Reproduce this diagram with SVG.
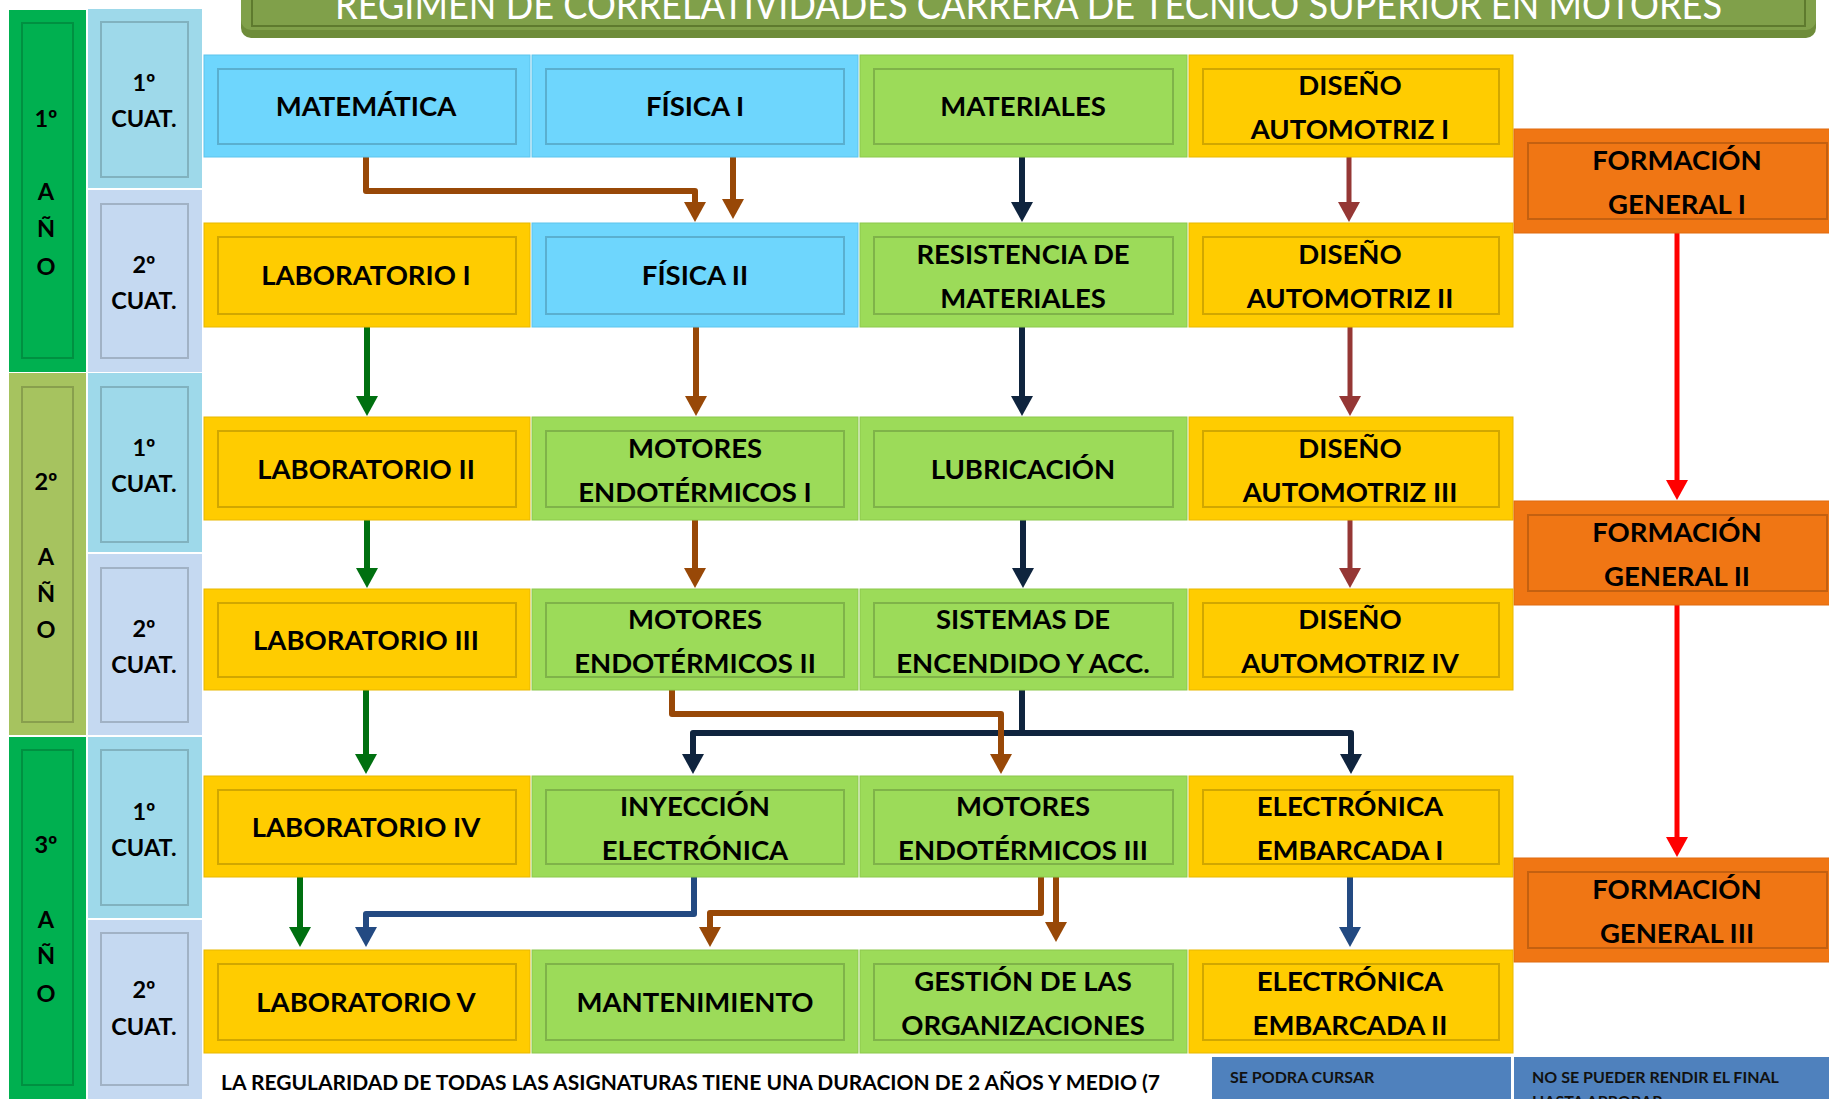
<svg xmlns="http://www.w3.org/2000/svg" width="1829" height="1099" viewBox="0 0 1829 1099">
<defs>
<style>
.t{font-family:Lato,"Open Sans","Liberation Sans",sans-serif;font-weight:700;font-size:27.5px;fill:#000;text-anchor:middle}
.s{font-size:23.5px}
.ttl{font-family:Lato,"Liberation Sans",sans-serif;font-weight:400;font-size:40px;fill:#fff}
.note{font-family:Lato,"Liberation Sans",sans-serif;font-weight:700;font-size:21px;fill:#000}
.leg{font-family:Lato,"Liberation Sans",sans-serif;font-weight:700;font-size:16px;fill:#111}
.blue{fill:#6ED6FD;stroke:#5CC4EC;stroke-width:1}
.green{fill:#9CDB59;stroke:#8CC84D;stroke-width:1}
.yellow{fill:#FFCC00;stroke:#E8B800;stroke-width:1}
.orange{fill:#F07614;stroke:#E06A0E;stroke-width:1}
.yg{fill:#00B050}
.yo{fill:#A6C35F}
.c1{fill:#9ED9EA}
.c2{fill:#C5D9F1}
.in{fill:none;stroke:#000;stroke-opacity:.18;stroke-width:2}
.cn{fill:none;stroke-width:6;stroke-linejoin:round}
.br{stroke:#984807}
.nv{stroke:#0F243E}
.dr{stroke:#953735;stroke-width:5}
.gr{stroke:#007010}
.bl{stroke:#234A82}
.rd{stroke:#FF0000;stroke-width:5}
</style>
<marker id="aBr" markerUnits="userSpaceOnUse" viewBox="0 0 20 22" markerWidth="20" markerHeight="22" refX="1" refY="11" orient="auto"><path d="M0,0L20,11L0,22z" fill="#984807"/></marker>
<marker id="aNv" markerUnits="userSpaceOnUse" viewBox="0 0 20 22" markerWidth="20" markerHeight="22" refX="1" refY="11" orient="auto"><path d="M0,0L20,11L0,22z" fill="#0F243E"/></marker>
<marker id="aDr" markerUnits="userSpaceOnUse" viewBox="0 0 20 22" markerWidth="20" markerHeight="22" refX="1" refY="11" orient="auto"><path d="M0,0L20,11L0,22z" fill="#953735"/></marker>
<marker id="aGr" markerUnits="userSpaceOnUse" viewBox="0 0 20 22" markerWidth="20" markerHeight="22" refX="1" refY="11" orient="auto"><path d="M0,0L20,11L0,22z" fill="#007010"/></marker>
<marker id="aBl" markerUnits="userSpaceOnUse" viewBox="0 0 20 22" markerWidth="20" markerHeight="22" refX="1" refY="11" orient="auto"><path d="M0,0L20,11L0,22z" fill="#234A82"/></marker>
<marker id="aRd" markerUnits="userSpaceOnUse" viewBox="0 0 20 22" markerWidth="20" markerHeight="22" refX="1" refY="11" orient="auto"><path d="M0,0L20,11L0,22z" fill="#FF0000"/></marker>
</defs>
<rect width="1829" height="1099" fill="#fff"/>

<g id="title">
<rect x="241" y="-30" width="1575" height="68" rx="10" fill="#6E8C3A"/>
<rect x="241" y="-30" width="1575" height="60" rx="10" fill="#80A04A"/>
<rect x="252" y="-20" width="1553" height="46" fill="none" stroke="#5E7A2E" stroke-width="2"/>
<text class="ttl" x="335" y="19" textLength="1387" lengthAdjust="spacingAndGlyphs">REGIMEN DE CORRELATIVIDADES CARRERA DE TECNICO SUPERIOR EN MOTORES</text>
</g>

<g id="years">
<g id="year1"><rect class="yg" x="9" y="10" width="77" height="362"/><rect class="in" x="22" y="23" width="51" height="335"/>
<text class="t s" x="46" y="127">1º</text><text class="t s" x="46" y="200">A</text><text class="t s" x="46" y="237">Ñ</text><text class="t s" x="46" y="275">O</text></g>
<g id="year2"><rect class="yo" x="9" y="373" width="77" height="362"/><rect class="in" x="22" y="387" width="51" height="335"/>
<text class="t s" x="46" y="490">2º</text><text class="t s" x="46" y="565">A</text><text class="t s" x="46" y="602">Ñ</text><text class="t s" x="46" y="638">O</text></g>
<g id="year3"><rect class="yg" x="9" y="737" width="77" height="370"/><rect class="in" x="22" y="750" width="51" height="335"/>
<text class="t s" x="46" y="853">3º</text><text class="t s" x="46" y="928">A</text><text class="t s" x="46" y="964">Ñ</text><text class="t s" x="46" y="1002">O</text></g>
</g>

<g id="cuats">
<g id="cuat-1-1"><rect class="c1" x="88" y="9" width="114" height="179"/><rect class="in" x="101" y="22" width="87" height="155"/><text class="t s" x="144" y="91">1º</text><text class="t s" x="144" y="127">CUAT.</text></g>
<g id="cuat-1-2"><rect class="c2" x="88" y="190" width="114" height="182"/><rect class="in" x="101" y="204" width="87" height="154"/><text class="t s" x="144" y="273">2º</text><text class="t s" x="144" y="309">CUAT.</text></g>
<g id="cuat-2-1"><rect class="c1" x="88" y="373" width="114" height="179"/><rect class="in" x="101" y="387" width="87" height="155"/><text class="t s" x="144" y="456">1º</text><text class="t s" x="144" y="492">CUAT.</text></g>
<g id="cuat-2-2"><rect class="c2" x="88" y="554" width="114" height="181"/><rect class="in" x="101" y="568" width="87" height="154"/><text class="t s" x="144" y="637">2º</text><text class="t s" x="144" y="673">CUAT.</text></g>
<g id="cuat-3-1"><rect class="c1" x="88" y="737" width="114" height="181"/><rect class="in" x="101" y="750" width="87" height="155"/><text class="t s" x="144" y="820">1º</text><text class="t s" x="144" y="856">CUAT.</text></g>
<g id="cuat-3-2"><rect class="c2" x="88" y="920" width="114" height="185"/><rect class="in" x="101" y="933" width="87" height="152"/><text class="t s" x="144" y="998">2º</text><text class="t s" x="144" y="1035">CUAT.</text></g>
</g>

<g id="connectors">
<path class="cn br" d="M366,157V191H695V203" marker-end="url(#aBr)"/>
<path class="cn br" d="M733,157V200" marker-end="url(#aBr)"/>
<path class="cn nv" d="M1022,157V203" marker-end="url(#aNv)"/>
<path class="cn dr" d="M1349,157V203" marker-end="url(#aDr)"/>
<path class="cn rd" d="M1677,233V481" marker-end="url(#aRd)"/>
<path class="cn gr" d="M367,327V397" marker-end="url(#aGr)"/>
<path class="cn br" d="M696,327V397" marker-end="url(#aBr)"/>
<path class="cn nv" d="M1022,327V397" marker-end="url(#aNv)"/>
<path class="cn dr" d="M1350,327V397" marker-end="url(#aDr)"/>
<path class="cn gr" d="M367,520V569" marker-end="url(#aGr)"/>
<path class="cn br" d="M695,520V569" marker-end="url(#aBr)"/>
<path class="cn nv" d="M1023,520V569" marker-end="url(#aNv)"/>
<path class="cn dr" d="M1350,520V569" marker-end="url(#aDr)"/>
<path class="cn rd" d="M1677,605V838" marker-end="url(#aRd)"/>
<path class="cn gr" d="M366,690V755" marker-end="url(#aGr)"/>
<path class="cn nv" d="M1022,690V733H693V755" marker-end="url(#aNv)"/>
<path class="cn nv" d="M1022,733H1351V755" marker-end="url(#aNv)"/>
<path class="cn br" d="M672,690V714H1001V755" marker-end="url(#aBr)"/>
<path class="cn gr" d="M300,877V928" marker-end="url(#aGr)"/>
<path class="cn bl" d="M694,877V914H366V928" marker-end="url(#aBl)"/>
<path class="cn br" d="M1041,877V913H710V928" marker-end="url(#aBr)"/>
<path class="cn br" d="M1056,877V923" marker-end="url(#aBr)"/>
<path class="cn bl" d="M1350,877V928" marker-end="url(#aBl)"/>
</g>

<g id="nodes">
<g id="matematica"><rect class="blue" x="204" y="55" width="326" height="102"/><rect class="in" x="218" y="69" width="298" height="75"/><text class="t" x="366" y="116">MATEMÁTICA</text></g>
<g id="fisica1"><rect class="blue" x="532" y="55" width="326" height="102"/><rect class="in" x="546" y="69" width="298" height="75"/><text class="t" x="695" y="116">FÍSICA I</text></g>
<g id="materiales"><rect class="green" x="860" y="55" width="327" height="102"/><rect class="in" x="874" y="69" width="299" height="75"/><text class="t" x="1023" y="116">MATERIALES</text></g>
<g id="diseno1"><rect class="yellow" x="1189" y="55" width="324" height="102"/><rect class="in" x="1203" y="69" width="296" height="75"/><text class="t" x="1350" y="95">DISEÑO</text><text class="t" x="1350" y="139">AUTOMOTRIZ I</text></g>
<g id="formacion1"><rect class="orange" x="1514" y="129" width="327" height="104"/><rect class="in" x="1528" y="143" width="299" height="76"/><text class="t" x="1677" y="170">FORMACIÓN</text><text class="t" x="1677" y="214">GENERAL I</text></g>

<g id="lab1"><rect class="yellow" x="204" y="223" width="326" height="104"/><rect class="in" x="218" y="237" width="298" height="77"/><text class="t" x="366" y="285">LABORATORIO I</text></g>
<g id="fisica2"><rect class="blue" x="532" y="223" width="326" height="104"/><rect class="in" x="546" y="237" width="298" height="77"/><text class="t" x="695" y="285">FÍSICA II</text></g>
<g id="resistencia"><rect class="green" x="860" y="223" width="327" height="104"/><rect class="in" x="874" y="237" width="299" height="77"/><text class="t" x="1023" y="264">RESISTENCIA DE</text><text class="t" x="1023" y="308">MATERIALES</text></g>
<g id="diseno2"><rect class="yellow" x="1189" y="223" width="324" height="104"/><rect class="in" x="1203" y="237" width="296" height="77"/><text class="t" x="1350" y="264">DISEÑO</text><text class="t" x="1350" y="308">AUTOMOTRIZ II</text></g>

<g id="lab2"><rect class="yellow" x="204" y="417" width="326" height="103"/><rect class="in" x="218" y="431" width="298" height="76"/><text class="t" x="366" y="479">LABORATORIO II</text></g>
<g id="motores1"><rect class="green" x="532" y="417" width="326" height="103"/><rect class="in" x="546" y="431" width="298" height="76"/><text class="t" x="695" y="458">MOTORES</text><text class="t" x="695" y="502">ENDOTÉRMICOS I</text></g>
<g id="lubricacion"><rect class="green" x="860" y="417" width="327" height="103"/><rect class="in" x="874" y="431" width="299" height="76"/><text class="t" x="1023" y="479">LUBRICACIÓN</text></g>
<g id="diseno3"><rect class="yellow" x="1189" y="417" width="324" height="103"/><rect class="in" x="1203" y="431" width="296" height="76"/><text class="t" x="1350" y="458">DISEÑO</text><text class="t" x="1350" y="502">AUTOMOTRIZ III</text></g>
<g id="formacion2"><rect class="orange" x="1514" y="501" width="327" height="104"/><rect class="in" x="1528" y="515" width="299" height="76"/><text class="t" x="1677" y="542">FORMACIÓN</text><text class="t" x="1677" y="586">GENERAL II</text></g>

<g id="lab3"><rect class="yellow" x="204" y="589" width="326" height="101"/><rect class="in" x="218" y="603" width="298" height="74"/><text class="t" x="366" y="650">LABORATORIO III</text></g>
<g id="motores2"><rect class="green" x="532" y="589" width="326" height="101"/><rect class="in" x="546" y="603" width="298" height="74"/><text class="t" x="695" y="629">MOTORES</text><text class="t" x="695" y="673">ENDOTÉRMICOS II</text></g>
<g id="sistemas"><rect class="green" x="860" y="589" width="327" height="101"/><rect class="in" x="874" y="603" width="299" height="74"/><text class="t" x="1023" y="629">SISTEMAS DE</text><text class="t" x="1023" y="673">ENCENDIDO Y ACC.</text></g>
<g id="diseno4"><rect class="yellow" x="1189" y="589" width="324" height="101"/><rect class="in" x="1203" y="603" width="296" height="74"/><text class="t" x="1350" y="629">DISEÑO</text><text class="t" x="1350" y="673">AUTOMOTRIZ IV</text></g>

<g id="lab4"><rect class="yellow" x="204" y="776" width="326" height="101"/><rect class="in" x="218" y="790" width="298" height="74"/><text class="t" x="366" y="837">LABORATORIO IV</text></g>
<g id="inyeccion"><rect class="green" x="532" y="776" width="326" height="101"/><rect class="in" x="546" y="790" width="298" height="74"/><text class="t" x="695" y="816">INYECCIÓN</text><text class="t" x="695" y="860">ELECTRÓNICA</text></g>
<g id="motores3"><rect class="green" x="860" y="776" width="327" height="101"/><rect class="in" x="874" y="790" width="299" height="74"/><text class="t" x="1023" y="816">MOTORES</text><text class="t" x="1023" y="860">ENDOTÉRMICOS III</text></g>
<g id="electronica1"><rect class="yellow" x="1189" y="776" width="324" height="101"/><rect class="in" x="1203" y="790" width="296" height="74"/><text class="t" x="1350" y="816">ELECTRÓNICA</text><text class="t" x="1350" y="860">EMBARCADA I</text></g>
<g id="formacion3"><rect class="orange" x="1514" y="858" width="327" height="104"/><rect class="in" x="1528" y="872" width="299" height="76"/><text class="t" x="1677" y="899">FORMACIÓN</text><text class="t" x="1677" y="943">GENERAL III</text></g>

<g id="lab5"><rect class="yellow" x="204" y="950" width="326" height="103"/><rect class="in" x="218" y="964" width="298" height="76"/><text class="t" x="366" y="1012">LABORATORIO V</text></g>
<g id="mantenimiento"><rect class="green" x="532" y="950" width="326" height="103"/><rect class="in" x="546" y="964" width="298" height="76"/><text class="t" x="695" y="1012">MANTENIMIENTO</text></g>
<g id="gestion"><rect class="green" x="860" y="950" width="327" height="103"/><rect class="in" x="874" y="964" width="299" height="76"/><text class="t" x="1023" y="991">GESTIÓN DE LAS</text><text class="t" x="1023" y="1035">ORGANIZACIONES</text></g>
<g id="electronica2"><rect class="yellow" x="1189" y="950" width="324" height="103"/><rect class="in" x="1203" y="964" width="296" height="76"/><text class="t" x="1350" y="991">ELECTRÓNICA</text><text class="t" x="1350" y="1035">EMBARCADA II</text></g>
</g>

<g id="footer">
<text class="note" x="221" y="1090">LA REGULARIDAD DE TODAS LAS ASIGNATURAS TIENE UNA DURACION DE 2 AÑOS Y MEDIO (7</text>
<g id="legend1"><rect x="1212" y="1057" width="299" height="50" fill="#4F81BD"/><text class="leg" x="1230" y="1083">SE PODRA CURSAR</text></g>
<g id="legend2"><rect x="1514" y="1057" width="320" height="50" fill="#4F81BD"/><text class="leg" x="1532" y="1083">NO SE PUEDER RENDIR EL FINAL</text><text class="leg" x="1532" y="1107">HASTA APROBAR</text></g>
</g>
</svg>
